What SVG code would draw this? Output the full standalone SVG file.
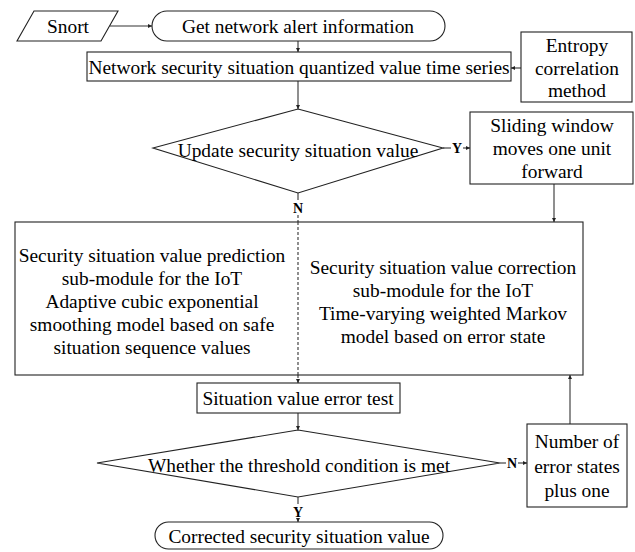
<svg xmlns="http://www.w3.org/2000/svg" width="635" height="552" viewBox="0 0 635 552">
<defs>
<marker id="ah" viewBox="0 0 6 6" refX="6" refY="3" markerWidth="4" markerHeight="4" orient="auto" markerUnits="userSpaceOnUse">
<path d="M0,0 L6,3 L0,6 z" fill="#222"/>
</marker>
</defs>
<style>
.s{fill:#fff;stroke:#222;stroke-width:1.1}
.t{font-family:'Liberation Serif',serif;font-size:19.4px;fill:#000;text-anchor:middle;dominant-baseline:central}
.b{font-family:'Liberation Serif',serif;font-size:14px;font-weight:bold;fill:#000;text-anchor:middle;dominant-baseline:central}
.c{fill:none;stroke:#333;stroke-width:1.1}
.a{marker-end:url(#ah)}
.d{stroke-dasharray:3,2}
</style>
<rect width="635" height="552" fill="#fff"/>
<g id="connectors">
<line class="c a" x1="110" y1="26" x2="152" y2="26"/>
<line class="c a" x1="298" y1="41" x2="298" y2="52"/>
<line class="c a" x1="521" y1="68" x2="511" y2="68"/>
<line class="c a" x1="298" y1="81" x2="298" y2="109"/>
<line class="c" x1="443" y1="148" x2="451" y2="148"/>
<text class="b" x="457" y="148">Y</text>
<line class="c a" x1="463" y1="148" x2="470" y2="148"/>
<line class="c a" x1="554" y1="184" x2="554" y2="222"/>
<line class="c" x1="298" y1="193" x2="298" y2="200"/>
<text class="b" x="298" y="208">N</text>
<line class="c d a" x1="298" y1="215" x2="298" y2="383"/>
<line class="c a" x1="298" y1="413" x2="298" y2="430"/>
<line class="c" x1="500" y1="463" x2="506" y2="463"/>
<text class="b" x="512" y="463">N</text>
<line class="c a" x1="518" y1="463" x2="527" y2="463"/>
<line class="c a" x1="570" y1="424" x2="570" y2="375"/>
<line class="c" x1="298" y1="497" x2="298" y2="504"/>
<text class="b" x="298" y="512">Y</text>
<line class="c a" x1="298" y1="518" x2="298" y2="522"/>
</g>
<g id="snort">
<polygon class="s" points="34,11 118,11 101,41 17,41"/>
<text class="t" x="68" y="26">Snort</text>
</g>
<g id="get-alert">
<rect class="s" x="152" y="11" width="293" height="30" rx="15"/>
<text class="t" x="298" y="26">Get network alert information</text>
</g>
<g id="time-series">
<rect class="s" x="87" y="52" width="424" height="29"/>
<text class="t" x="299" y="67">Network security situation quantized value time series</text>
</g>
<g id="entropy">
<rect class="s" x="521" y="32" width="111" height="70"/>
<text class="t" x="577" y="45">Entropy</text>
<text class="t" x="577" y="68">correlation</text>
<text class="t" x="577" y="90">method</text>
</g>
<g id="update-decision">
<polygon class="s" points="298,109 443,148 298,193 153,148"/>
<text class="t" x="298" y="150">Update security situation value</text>
</g>
<g id="sliding-window">
<rect class="s" x="470" y="112" width="163" height="72"/>
<text class="t" x="552" y="125">Sliding window</text>
<text class="t" x="552" y="148">moves one unit</text>
<text class="t" x="552" y="171">forward</text>
</g>
<g id="modules">
<rect class="s" x="15" y="222" width="568" height="153"/>
<line class="c d" x1="298" y1="222" x2="298" y2="375"/>
<text class="t" x="152" y="255">Security situation value prediction</text>
<text class="t" x="152" y="278">sub-module for the IoT</text>
<text class="t" x="152" y="301">Adaptive cubic exponential</text>
<text class="t" x="152" y="324">smoothing model based on safe</text>
<text class="t" x="152" y="347">situation sequence values</text>
<text class="t" x="443" y="267">Security situation value correction</text>
<text class="t" x="443" y="290">sub-module for the IoT</text>
<text class="t" x="443" y="313">Time-varying weighted Markov</text>
<text class="t" x="443" y="336">model based on error state</text>
</g>
<g id="error-test">
<rect class="s" x="197" y="383" width="203" height="30"/>
<text class="t" x="298" y="398">Situation value error test</text>
</g>
<g id="threshold-decision">
<polygon class="s" points="298,430 500,463 298,497 97,463"/>
<text class="t" x="299" y="465">Whether the threshold condition is met</text>
</g>
<g id="error-states">
<rect class="s" x="527" y="424" width="100" height="83"/>
<text class="t" x="577" y="441">Number of</text>
<text class="t" x="577" y="466">error states</text>
<text class="t" x="577" y="490">plus one</text>
</g>
<g id="corrected">
<rect class="s" x="155" y="522" width="288" height="27" rx="13.5"/>
<text class="t" x="299" y="536">Corrected security situation value</text>
</g>
</svg>
